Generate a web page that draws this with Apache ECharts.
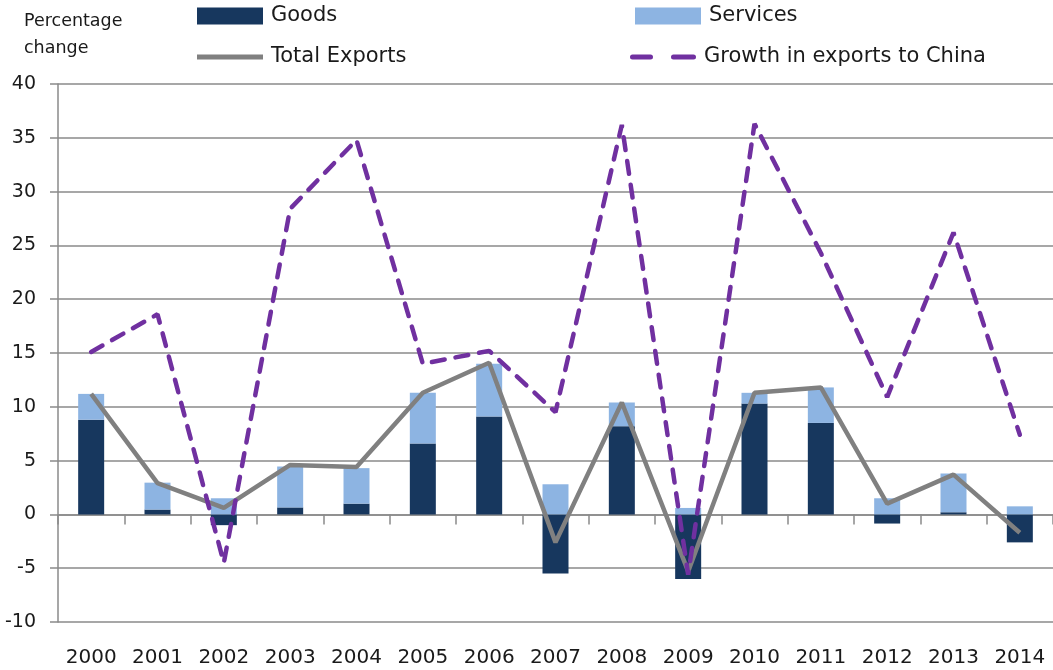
<!DOCTYPE html>
<html>
<head>
<meta charset="utf-8">
<script src="https://cdn.jsdelivr.net/npm/echarts@6/dist/echarts.min.js"></script>
<style>
  html, body { margin: 0; padding: 0; background: #fff; }
  #main { width: 1053px; height: 670px; }
</style>
</head>
<body>
<div id="main"></div>
<script>
// data
var years = ['2000', '2001', '2002', '2003', '2004', '2005', '2006', '2007', '2008', '2009', '2010', '2011', '2012', '2013', '2014'];
var goods = [8.8, 0.45, -1.0, 0.65, 1.0, 6.6, 9.1, -5.5, 8.2, -6.0, 10.3, 8.5, -0.85, 0.2, -2.6];
var services = [2.4, 2.5, 1.5, 3.8, 3.3, 4.7, 4.9, 2.8, 2.2, 0.6, 1.0, 3.3, 1.5, 3.6, 0.75];
var totalExports = [11.2, 2.9, 0.6, 4.6, 4.4, 11.3, 14.1, -2.6, 10.4, -5.3, 11.3, 11.8, 1.0, 3.7, -1.7];
var chinaGrowth = [15.1, 18.6, -4.5, 28.4, 34.8, 14.0, 15.2, 9.5, 36.2, -5.6, 36.3, 24.3, 10.9, 26.2, 7.4];
var yTicks = { min: -10, max: 40, step: 5 };

var font = 'DejaVu Sans';
var gridGray = '#8a8a8a';

// one legend box per entry so each sits where the original put it
function legendAt(name, left, top, icon, h) {
  return {
    data: [{ name: name, icon: icon }],
    left: left,
    top: top,
    padding: 0,
    itemWidth: 66,
    itemHeight: h,
    itemGap: 0,
    selectedMode: false,
    textStyle: { fontFamily: font, fontSize: 21, color: '#1a1a1a', lineHeight: 22, padding: [0, 0, 0, 3] }
  };
}

var chart = echarts.init(document.getElementById('main'));

var option = {
  animation: false,
  backgroundColor: '#fff',
  grid: { left: 58, right: 0, top: 84, bottom: 48, containLabel: false },
  legend: [
    legendAt('Goods', 197, 5, 'rect', 17),
    legendAt('Services', 635, 5, 'rect', 17),
    legendAt('Total Exports', 197, 46, 'path://M0,0H66V5H0Z', 5),
    legendAt('Growth in exports to China', 630, 46, 'path://M2.5,0H20.5A2.5,2.5 0 0 1 20.5,5H2.5A2.5,2.5 0 0 1 2.5,0Z M43.5,0H63.5A2.5,2.5 0 0 1 63.5,5H43.5A2.5,2.5 0 0 1 43.5,0Z', 5)
  ],
  graphic: [{
    type: 'text',
    left: 24,
    top: 8,
    style: { text: 'Percentage\nchange', fontFamily: font, fontSize: 17.5, lineHeight: 27, fill: '#1a1a1a' }
  }],
  xAxis: [{
    type: 'category',
    data: years,
    position: 'bottom',
    axisLine: { show: false, onZero: false },
    axisTick: { show: false },
    axisLabel: { margin: 26, fontFamily: font, fontSize: 20, color: '#1a1a1a' }
  }, {
    type: 'category',
    data: years,
    position: 'bottom',
    axisLine: { show: true, onZero: true, lineStyle: { color: gridGray, width: 1.5 } },
    axisTick: { show: true, length: 10, lineStyle: { color: gridGray, width: 1.5 } },
    axisLabel: { show: false }
  }],
  yAxis: {
    type: 'value',
    min: yTicks.min,
    max: yTicks.max,
    interval: yTicks.step,
    axisLine: { show: true, lineStyle: { color: gridGray, width: 1.5 } },
    axisTick: { show: true, length: 8, lineStyle: { color: gridGray, width: 1.5 } },
    axisLabel: { margin: 22, fontFamily: font, fontSize: 19, color: '#1a1a1a' },
    splitLine: { lineStyle: { color: gridGray, width: 1.5 } }
  },
  series: [
    {
      name: 'Goods',
      type: 'bar',
      stack: 'exports',
      barWidth: 26,
      itemStyle: { color: '#17375E' },
      data: goods
    },
    {
      name: 'Services',
      type: 'bar',
      stack: 'exports',
      barWidth: 26,
      itemStyle: { color: '#8DB4E2' },
      data: services
    },
    {
      name: 'Total Exports',
      type: 'line',
      symbol: 'none',
      lineStyle: { color: '#808080', width: 4.5 },
      itemStyle: { color: '#808080' },
      data: totalExports
    },
    {
      name: 'Growth in exports to China',
      type: 'line',
      symbol: 'none',
      lineStyle: { color: '#7030A0', width: 4.5, type: [13, 11], cap: 'round' },
      itemStyle: { color: '#7030A0' },
      data: chinaGrowth
    }
  ]
};

chart.setOption(option);
</script>
</body>
</html>
